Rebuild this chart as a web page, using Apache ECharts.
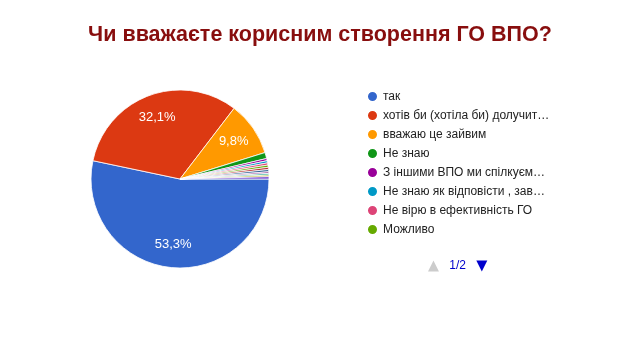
<!DOCTYPE html>
<html><head><meta charset="utf-8">
<script src="https://cdn.jsdelivr.net/npm/echarts@6/dist/echarts.min.js"></script>
<style>html,body{margin:0;padding:0;background:#fff}#c{width:640px;height:360px}</style>
</head><body><div id="c"></div>
<script>
const categories = [
  'так',
  'хотів би (хотіла би) долучитися до створення ГО ВПО',
  'вважаю це зайвим',
  'Не знаю',
  'З іншими ВПО ми спілкуємося неформально',
  'Не знаю як відповісти , завжди по-різному',
  'Не вірю в ефективність ГО',
  'Можливо',
  'Інша відповідь (1)',
  'Інша відповідь (2)',
  'Інша відповідь (3)',
  'Інша відповідь (4)',
  'Інша відповідь (5)',
  'Інша відповідь (6)'
];
const values = [53.3, 32.1, 9.8, 1.1, 0.4, 0.4, 0.4, 0.4, 0.4, 0.4, 0.3, 0.3, 0.3, 0.4];
const colors = ['#3366cc','#dc3912','#ff9900','#109618','#990099','#0099c6','#dd4477','#66aa00','#b82e2e','#316395','#994499','#22aa99','#aaaa11','#6633cc'];
const titleText = 'Чи вважаєте корисним створення ГО ВПО?';

const FONT = 'Liberation Sans, Arial, sans-serif';
const data = categories.map((n, i) => ({name: n, value: values[i]}));
const fmt = p => p.value >= 5 ? p.value.toFixed(1).replace('.', ',') + '%' : '';

const ctx = document.createElement('canvas').getContext('2d');
ctx.font = '12px ' + FONT;
function truncate(s, maxW) {
  if (ctx.measureText(s).width <= maxW) return s;
  let t = s;
  while (t.length > 0 && ctx.measureText(t + '…').width > maxW) t = t.slice(0, -1);
  return t + '…';
}

const chart = echarts.init(document.getElementById('c'));
chart.setOption({
  color: colors,
  animation: false,
  title: {
    text: titleText, left: 'center', top: 19,
    textStyle: {fontFamily: FONT, fontSize: 21.5, fontWeight: 'bold', color: '#880e0e'}
  },
  legend: {
    type: 'scroll', orient: 'vertical', left: 361, top: 85, height: 182, width: 260,
    icon: 'circle', itemWidth: 11, itemHeight: 11, itemGap: 6,
    formatter: n => truncate(n, 167),
    textStyle: {fontFamily: FONT, fontSize: 12, color: '#222'},
    pageIconColor: '#0000cc', pageIconInactiveColor: '#cccccc', pageIconSize: 11,
    pageButtonGap: 20,
    pageTextStyle: {color: '#0000cc', fontSize: 12, fontFamily: FONT},
    data: categories
  },
  series: [{
    type: 'pie', center: [180, 179], radius: 89, startAngle: 0, clockwise: true,
    data: data, label: {show: false}, labelLine: {show: false},
    itemStyle: {borderColor: '#fff', borderWidth: 0.8},
    emphasis: {disabled: true}
  }, {
    type: 'pie', center: [180, 179], radius: [36, 89], startAngle: 0, clockwise: true,
    data: data, silent: true,
    itemStyle: {color: 'rgba(0,0,0,0)', borderWidth: 0},
    label: {show: true, position: 'inside', formatter: fmt, color: '#fff', fontSize: 13, fontFamily: FONT},
    labelLine: {show: false}, emphasis: {disabled: true}, legendHoverLink: false
  }]
});
</script></body></html>
